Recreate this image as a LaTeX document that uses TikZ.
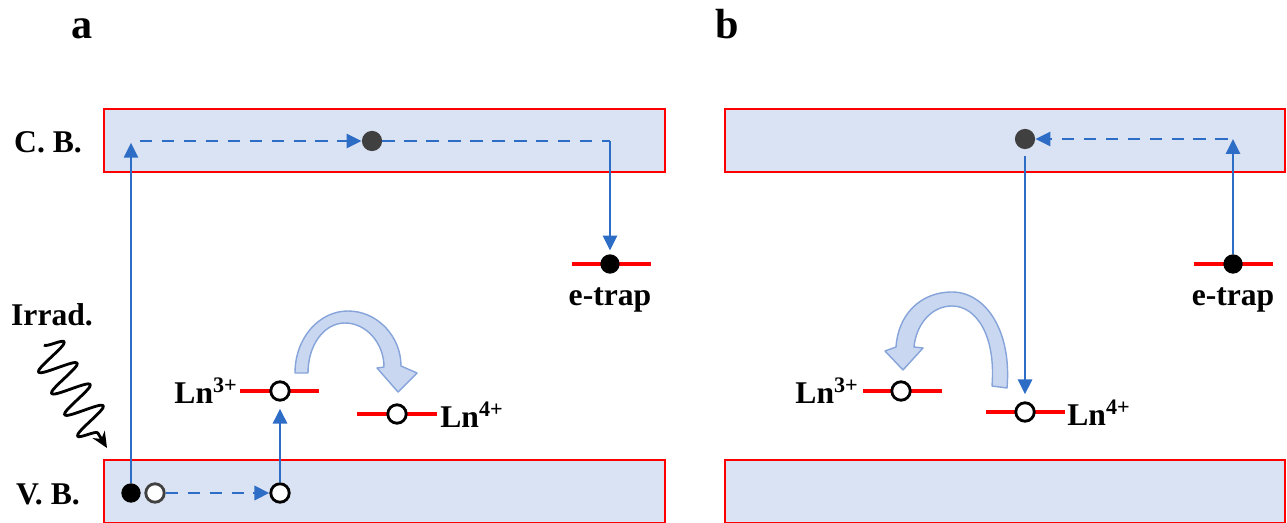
\documentclass[tikz,border=0pt]{standalone}
\usepackage{fontspec}
\setmainfont{Liberation Serif}
\usetikzlibrary{arrows.meta,decorations.pathmorphing}
\definecolor{bandfill}{HTML}{DAE3F3}
\definecolor{bandline}{HTML}{FF0000}
\definecolor{arrblue}{HTML}{2E6DC6}
\definecolor{curvefill}{HTML}{C9D7F0}
\definecolor{curveline}{HTML}{86A4DA}
\definecolor{dotgray}{HTML}{404040}
\tikzset{
  lbl/.style={font=\bfseries\fontsize{18}{20}\selectfont, inner sep=0pt},
  panel/.style={font=\bfseries\fontsize{24}{26}\selectfont, inner sep=0pt, anchor=base},
  band/.style={draw=bandline, fill=bandfill, line width=1.6pt},
  lev/.style={draw=bandline, line width=2.8pt},
  bl/.style={draw=arrblue, line width=1.6pt},
  tip/.style={-{Triangle[length=8.5pt,width=8pt]}},
  dsh/.style={dash pattern=on 7pt off 5.5pt},
  hole/.style={circle, draw=black, fill=white, line width=1.6pt, minimum size=10.5pt, inner sep=0pt},
  holeg/.style={hole, draw=dotgray},
  elec/.style={circle, fill=black, minimum size=11pt, inner sep=0pt},
  cbdot/.style={circle, fill=dotgray, minimum size=11.5pt, inner sep=0pt},
  curv/.style={fill=curvefill, draw=curveline, line width=0.8pt, line join=round},
}
\begin{document}
\begin{tikzpicture}[x=0.02cm,y=-0.02cm]
\useasboundingbox (0,0) rectangle (1287,523);
% panel labels
\node[panel] (pa) at (82,39) {a};
\node[panel] (pb) at (727,39) {b};
% bands
\draw[band] (104,109) rectangle (665,172);
\draw[band] (104,460) rectangle (665,523);
\draw[band] (725,109) rectangle (1285,172);
\draw[band] (725,460) rectangle (1285,523);
\node[lbl] (cb) at (48,142) {C. B.};
\node[lbl] (vb) at (48,494) {V. B.};
% ---------- panel a ----------
\draw[lev] (572,264) -- (651,264);
\draw[lev] (240,391) -- (319,391);
\draw[lev] (357,414) -- (437,414);
\node[elec] (ta) at (610,264) {};
\node[lbl] (etA) at (610,300) {e-trap};
\node[hole] (ln3a) at (280,391) {};
\node[hole] (ln4a) at (397,414) {};
\node[lbl, anchor=east] (l3a) at (238,391) {Ln\textsuperscript{3+}};
\node[lbl, anchor=west] (l4a) at (440,415) {Ln\textsuperscript{4+}};
\node[elec] (ea) at (131,493) {};
\node[holeg] (ha) at (155,493) {};
\node[hole] (hb) at (280,493) {};
\node[cbdot] (da) at (372,141) {};
\coordinate (c1) at (131,141);
\coordinate (c2) at (610,141);
\draw[bl,tip] (ea) -- ([yshift=-1pt]c1);
\draw[bl,dsh,tip] ([xshift=5pt]c1) -- (da);
\draw[bl,dsh] (da) -- (c2);
\draw[bl,tip] (c2) -- ([yshift=2pt]ta.north);
\draw[bl,dsh,tip] (ha) -- (hb);
\draw[bl,tip] (hb) -- ([yshift=-4pt]ln3a.south);
% curved arrow a
\draw[curv] (295,373) .. controls (295,338) and (319,311) .. (348,311)
  .. controls (377,311) and (401,336) .. (401,366)
  -- (417,373) -- (398,392) -- (377,368) -- (384,367)
  .. controls (384,343) and (366,323) .. (345,323)
  .. controls (324,323) and (308,345) .. (308,373) -- cycle;
% irradiation
\node[lbl] (irr) at (52,315) {Irrad.};
\coordinate (w1) at (44,345);
\coordinate (w2) at (107,448);
\draw[line width=1.6pt, line join=round, decorate, decoration={snake, amplitude=0.38cm, segment length=0.5cm, post length=0.3cm}, -{Stealth[length=9pt,width=8pt]}] (w1) -- (w2);
% ---------- panel b ----------
\draw[lev] (1194,264) -- (1273,264);
\draw[lev] (863,391) -- (942,391);
\draw[lev] (986,412) -- (1065,412);
\node[elec] (tb) at (1233,264) {};
\node[lbl] (etB) at (1233,300) {e-trap};
\node[hole] (ln3b) at (901,391) {};
\node[hole] (ln4b) at (1025,412) {};
\node[lbl, anchor=east] (l3b) at (859,391) {Ln\textsuperscript{3+}};
\node[lbl, anchor=west] (l4b) at (1067,413) {Ln\textsuperscript{4+}};
\node[cbdot] (db) at (1025,139) {};
\coordinate (c3) at (1233,139);
\draw[bl,tip] (tb) -- (c3);
\draw[bl,dsh,tip] ([xshift=-3pt]c3) -- (db);
\draw[bl,tip] ([yshift=-4pt]db.south) -- ([yshift=4pt]ln4b.north);
% curved arrow b
\draw[curv] (1007,388) .. controls (1012,330) and (985,292) .. (952,292)
  .. controls (920,292) and (898,315) .. (896,347)
  -- (885,351) -- (903,370) -- (923,348) -- (914,347)
  .. controls (916,325) and (931,306) .. (952,306)
  .. controls (976,306) and (996,335) .. (992,386) -- cycle;
\end{tikzpicture}
\end{document}
